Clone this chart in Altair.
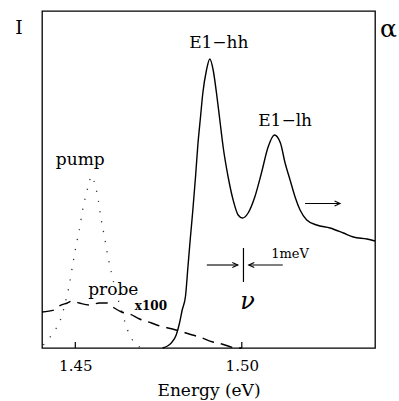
import altair as alt
import pandas as pd

# ---- data (x in eV, y in arbitrary units) ----
abs_x = [1.4762, 1.4777, 1.4788, 1.4803, 1.4813, 1.4821, 1.4831, 1.4838, 1.4845,
         1.4853, 1.4861, 1.4868, 1.4876, 1.4883, 1.4894, 1.4904, 1.4914, 1.4924,
         1.4934, 1.4944, 1.4959, 1.4974, 1.4989, 1.5002, 1.5019, 1.5039, 1.5059,
         1.5079, 1.5098, 1.5116, 1.5130, 1.5145, 1.5160, 1.5175, 1.5195, 1.5225,
         1.5265, 1.5305, 1.5335, 1.5376, 1.5400]
abs_y = [0, 2, 5, 13, 25, 38, 52, 80, 108,
         138, 171, 203, 231, 255, 278, 289, 278, 255,
         228, 201, 171, 148, 133, 130, 135, 151, 175,
         201, 213, 205, 185, 168, 151, 138, 128, 123,
         120, 115, 111, 109, 107]

pump_x = [1.4404, 1.4422, 1.4439, 1.4452, 1.4460, 1.4474, 1.4482, 1.4492, 1.4500,
          1.4507, 1.4512, 1.4522, 1.4532, 1.4539, 1.4549, 1.4560, 1.4567, 1.4577,
          1.4587, 1.4600, 1.4608, 1.4623, 1.4638, 1.4651, 1.4657, 1.4668, 1.4684,
          1.4699]
pump_y = [3, 10, 18, 25, 33, 51, 63, 83, 98,
          110, 118, 138, 153, 162, 172, 162, 152, 130,
          112, 88, 76, 55, 38, 24, 18, 10, 3,
          0]

probe_x = [1.4400, 1.4437, 1.4452, 1.4476, 1.4491, 1.4512, 1.4542, 1.4572, 1.4596,
           1.4617, 1.4639, 1.4663, 1.4693, 1.4729, 1.4753, 1.4792, 1.4813, 1.4852,
           1.4873, 1.4913, 1.4940, 1.4985, 1.5000]
probe_y = [36, 38, 42, 45, 47, 45, 43, 45, 45,
           40, 36, 34, 29, 25, 22, 19, 17, 13,
           11, 6, 4, 0, 0]

tick_values = [1.45, 1.50]

label_text = ["E1\u2212hh", "E1\u2212lh", "pump", "probe"]
label_x = [1.4931, 1.5130, 1.4515, 1.4614]
label_y = [305, 227, 188, 58]

# arrows: (x start, x end, y)
arrow_x = [1.4895, 1.5123, 1.5190]
arrow_x2 = [1.4988, 1.5021, 1.5295]
arrow_y = [83, 83, 144.5]
arrow_dir = ["right", "left", "right"]

bar_x = [1.5005]
bar_y = [66]
bar_y2 = [100]

X_DOM = [1.44, 1.54]
Y_DOM = [0, 337]

SERIF = "DejaVu Serif"

xs = alt.Scale(domain=X_DOM, nice=False, zero=False)
ys = alt.Scale(domain=Y_DOM, nice=False, zero=False)

xaxis = alt.Axis(values=tick_values, format=".2f", ticks=False, domain=False, grid=False,
                 labelFont=SERIF, labelFontSize=15, labelColor="black",
                 labelPadding=10, title="Energy (eV)", titleFont=SERIF,
                 titleFontSize=17, titleFontWeight="normal", titleColor="black",
                 titlePadding=9)

def X(field="x"):
    return alt.X(f"{field}:Q", scale=xs, axis=xaxis)

def Y(field="y"):
    return alt.Y(f"{field}:Q", scale=ys, axis=None)

df_abs = pd.DataFrame({"x": abs_x, "y": abs_y})
df_pump = pd.DataFrame({"x": pump_x, "y": pump_y})
df_probe = pd.DataFrame({"x": probe_x, "y": probe_y})

absorb = alt.Chart(df_abs).mark_line(color="black", strokeWidth=1.4, interpolate="monotone").encode(
    x=X(), y=Y())
pump = alt.Chart(df_pump).mark_line(color="#333333", strokeWidth=1.3, strokeDash=[1.2, 9],
                                     interpolate="monotone").encode(x=X(), y=Y())
probe = alt.Chart(df_probe).mark_line(color="black", strokeWidth=1.4, strokeDash=[12, 7],
                                       interpolate="monotone").encode(x=X(), y=Y())

df_ticks = pd.DataFrame({"x": tick_values, "y0": [0] * len(tick_values), "y1": [6] * len(tick_values)})
ticks = alt.Chart(df_ticks).mark_rule(color="black", strokeWidth=1.2).encode(
    x=X(), y=Y("y0"), y2="y1:Q")

df_labels = pd.DataFrame({"x": label_x, "y": label_y, "t": label_text})
labels = alt.Chart(df_labels).mark_text(font=SERIF, fontSize=17, color="black",
                                        baseline="middle", align="center").encode(
    x=X(), y=Y(), text="t:N")

df_small = pd.DataFrame({"x": [1.4727], "y": [42], "t": ["x100"]})
small = alt.Chart(df_small).mark_text(font=SERIF, fontSize=12, fontWeight="bold",
                                      color="black", baseline="middle", align="center").encode(
    x=X(), y=Y(), text="t:N")

df_mev = pd.DataFrame({"x": [1.5145], "y": [94], "t": ["1meV"]})
mev = alt.Chart(df_mev).mark_text(font=SERIF, fontSize=13, color="black",
                                  baseline="middle", align="center").encode(
    x=X(), y=Y(), text="t:N")

df_nu = pd.DataFrame({"x": [1.5017], "y": [46], "t": ["\u03bd"]})
nu = alt.Chart(df_nu).mark_text(font=SERIF, fontStyle="italic", fontSize=24,
                                color="black", baseline="middle", align="center").encode(
    x=X(), y=Y(), text="t:N")

df_I = pd.DataFrame({"x": [1.4331], "y": [320], "t": ["I"]})
side_I = alt.Chart(df_I).mark_text(font=SERIF, fontSize=19, color="black",
                                   baseline="middle", align="center", clip=False).encode(
    x=X(), y=Y(), text="t:N")
df_a = pd.DataFrame({"x": [1.5440], "y": [319], "t": ["\u03b1"]})
side_a = alt.Chart(df_a).mark_text(font=SERIF, fontSize=25,
                                   color="black", baseline="middle", align="center", clip=False).encode(
    x=X(), y=Y(), text="t:N")

df_arrows = pd.DataFrame({"x": arrow_x, "x2": arrow_x2, "y": arrow_y, "dir": arrow_dir})
shafts = alt.Chart(df_arrows).mark_rule(color="black", strokeWidth=1.1).encode(
    x=X(), x2="x2:Q", y=Y())
heads_r = alt.Chart(df_arrows[df_arrows.dir == "right"]).mark_point(
    shape="M-1,-0.45L0,0L-1,0.45", filled=False, color="black", strokeWidth=1.1, size=120, opacity=1).encode(
    x=X("x2"), y=Y())
heads_l = alt.Chart(df_arrows[df_arrows.dir == "left"]).mark_point(
    shape="M1,-0.45L0,0L1,0.45", filled=False, color="black", strokeWidth=1.1, size=120, opacity=1).encode(
    x=X("x2"), y=Y())

df_bar = pd.DataFrame({"x": bar_x, "y": bar_y, "y2": bar_y2})
bar = alt.Chart(df_bar).mark_rule(color="black", strokeWidth=1.2).encode(
    x=X(), y=Y(), y2="y2:Q")

chart = alt.layer(
    absorb, pump, probe, ticks, labels, small, mev, nu, side_I, side_a, shafts, heads_r, heads_l, bar
).properties(
    width=333, height=337,
    autosize=alt.AutoSizeParams(type="none"),
    padding={"left": 42, "top": 11, "right": 24, "bottom": 53},
    background="white",
).configure_view(stroke="black", strokeWidth=1.3)

chart.save("out.html", embed_options={"renderer": "svg", "actions": False})
